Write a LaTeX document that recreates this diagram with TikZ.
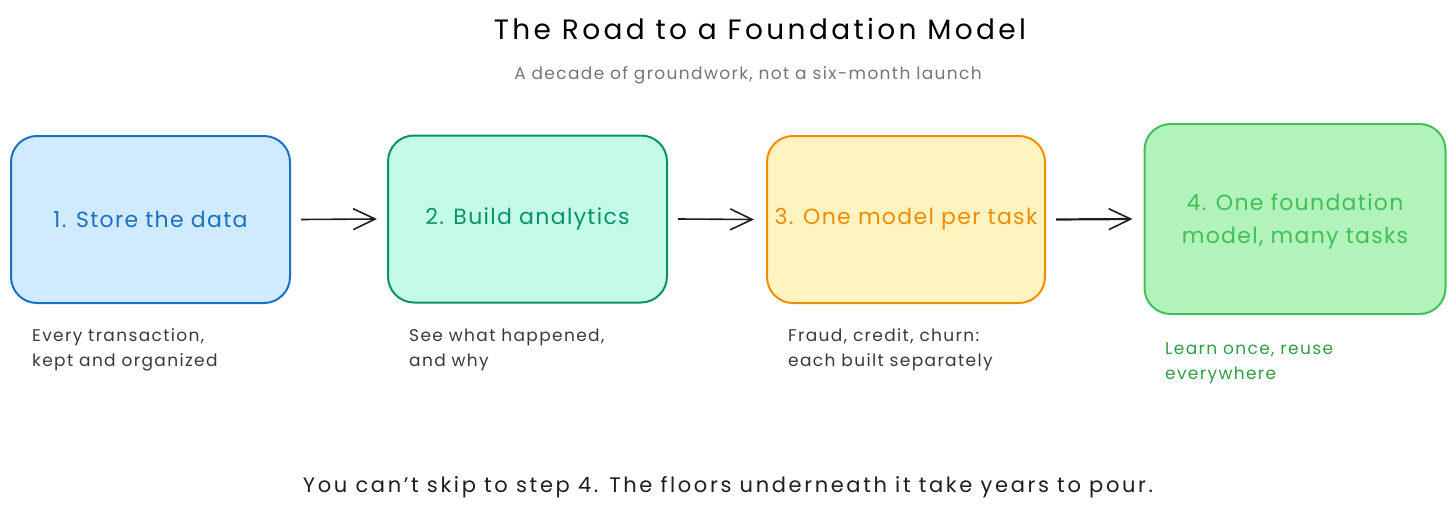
\documentclass[tikz,border=0pt]{standalone}
\usepackage{fontspec}
\setmainfont{Poppins}
\usetikzlibrary{arrows.meta}
\definecolor{bS}{HTML}{1971C2}\definecolor{bF}{HTML}{D0EBFF}
\definecolor{tS}{HTML}{099268}\definecolor{tF}{HTML}{C3FAE8}
\definecolor{oS}{HTML}{F08C00}\definecolor{oF}{HTML}{FFF3BF}
\definecolor{gS}{HTML}{40C057}\definecolor{gF}{HTML}{B2F2BB}
\definecolor{gT}{HTML}{2F9E44}
\definecolor{ink}{HTML}{1E1E1E}
\definecolor{cap}{HTML}{343A40}
\definecolor{sub}{HTML}{757575}
\tikzset{
  stepbox/.style={draw, line width=2pt, rounded corners=26pt, inner sep=0pt, align=center,
    font=\fontsize{22}{33}\selectfont\addfontfeature{LetterSpace=6}},
  caption/.style={anchor=base west, align=left, inner sep=0pt, text=cap,
    font=\fontsize{17}{25}\selectfont\addfontfeature{LetterSpace=8}},
  flow/.style={draw=ink, line width=1.6pt, -{Straight Barb[length=22pt,width=21pt,line width=1.6pt]}}
}
\begin{document}
\begin{tikzpicture}[x=1pt,y=-1pt]
\useasboundingbox (0,0) rectangle (1456,511);
\node[anchor=base, inner sep=0pt, font=\fontsize{28}{30}\selectfont\addfontfeature{LetterSpace=12}] (title) at (760,40) {The Road to a Foundation Model};
\node[anchor=base, inner sep=0pt, text=sub, font=\fontsize{17}{20}\selectfont\addfontfeature{LetterSpace=8}] (subtitle) at (748,79) {A decade of groundwork, not a six-month launch};

\node[stepbox, draw=bS, fill=bF, text=bS, minimum width=279pt, minimum height=167pt] (s1) at (150.5,219.5) {1. Store the data};
\node[stepbox, draw=tS, fill=tF, text=tS, minimum width=279pt, minimum height=167pt] (s2) at (527.5,219) {2. Build analytics};
\node[stepbox, draw=oS, fill=oF, text=oS, minimum width=278pt, minimum height=167pt] (s3) at (906,219.5) {3. One model per task};
\node[stepbox, draw=gS, fill=gF, text=gS, minimum width=301pt, minimum height=190pt] (s4) at (1295,219) {};
\node[text=gS, align=center, inner sep=0pt, font=\fontsize{22}{33}\selectfont\addfontfeature{LetterSpace=6}] (s4t) at (1295,221) {4. One foundation\\model, many tasks};

\draw[flow] ([xshift=10pt]s1.east) -- ([xshift=-10pt]s2.west);
\draw[flow] ([xshift=10pt]s2.east) -- ([xshift=-12pt]s3.west);
\draw[flow, line width=2.2pt] ([xshift=10pt]s3.east) -- ([xshift=-11pt]s4.west);

\node[caption] (c1) at (32,366) {Every transaction,\\kept and organized};
\node[caption] (c2) at (409,366) {See what happened,\\and why};
\node[caption] (c3) at (788,366) {Fraud, credit, churn:\\each built separately};
\node[caption, text=gT] (c4) at (1165,379) {Learn once, reuse\\everywhere};

\node[anchor=base, inner sep=0pt, text=ink, font=\fontsize{21}{23}\selectfont\addfontfeature{LetterSpace=12.5}] (foot) at (728,492) {You can't skip to step 4. The floors underneath it take years to pour.};
\end{tikzpicture}
\end{document}
